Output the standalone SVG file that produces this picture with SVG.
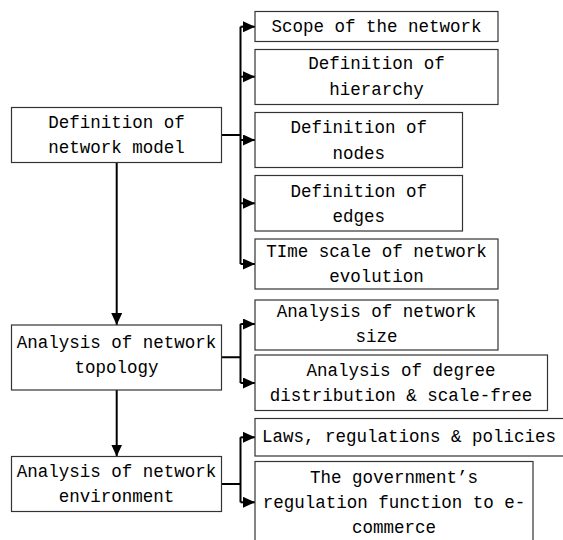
<svg xmlns="http://www.w3.org/2000/svg" width="563" height="540" viewBox="0 0 563 540">
<style>
.box{fill:#fff;stroke:#333;stroke-width:1.2}
.ln{fill:none;stroke:#000;stroke-width:2}
.t{font-family:"Liberation Mono","DejaVu Sans Mono",monospace;font-size:17.5px;fill:#000;text-anchor:middle}
.s{text-anchor:start}
</style>
<defs>
<marker id="ah" markerUnits="userSpaceOnUse" markerWidth="13" markerHeight="12" refX="12" refY="5.5" orient="auto">
<path d="M0,0 L12,5.5 L0,11 z" fill="#000"/>
</marker>
</defs>
<rect width="563" height="540" fill="#fff"/>
<g id="connectors">
<path class="ln" d="M221.5,135 H240.5 M240.5,26.7 V264 M221.5,357.3 H240.5 M240.5,324 V383 M221.5,484 H240.5 M240.5,437.3 V502.3"/>
<path class="ln" marker-end="url(#ah)" d="M240.5,26.7 H255"/>
<path class="ln" marker-end="url(#ah)" d="M240.5,76.7 H255"/>
<path class="ln" marker-end="url(#ah)" d="M240.5,140 H255"/>
<path class="ln" marker-end="url(#ah)" d="M240.5,203.3 H255"/>
<path class="ln" marker-end="url(#ah)" d="M240.5,264 H255"/>
<path class="ln" marker-end="url(#ah)" d="M240.5,324 H255"/>
<path class="ln" marker-end="url(#ah)" d="M240.5,383 H255"/>
<path class="ln" marker-end="url(#ah)" d="M240.5,437.3 H255"/>
<path class="ln" marker-end="url(#ah)" d="M240.5,502.3 H255"/>
<path class="ln" marker-end="url(#ah)" d="M116.7,162.5 V325" transform="translate(0,0)"/>
<path class="ln" marker-end="url(#ah)" d="M116.7,390 V456.5"/>
</g>
<g id="model"><rect class="box" x="11.5" y="107.5" width="210" height="55"/>
<text class="t" x="116.5" y="128.3">Definition of</text><text class="t" x="116.5" y="153.3">network model</text></g>
<g id="topology"><rect class="box" x="11.5" y="325" width="210" height="65"/>
<text class="t" x="116.5" y="348.3">Analysis of network</text><text class="t" x="116.5" y="372.7">topology</text></g>
<g id="environment"><rect class="box" x="11.5" y="456.5" width="210" height="55"/>
<text class="t" x="116.5" y="477.3">Analysis of network</text><text class="t" x="116.5" y="501.7">environment</text></g>
<g id="scope"><rect class="box" x="255" y="11.5" width="243" height="30"/>
<text class="t" x="376.5" y="32.3">Scope of the network</text></g>
<g id="hierarchy"><rect class="box" x="255" y="49.5" width="243" height="55"/>
<text class="t" x="376.5" y="69">Definition of</text><text class="t" x="376.5" y="95">hierarchy</text></g>
<g id="nodes"><rect class="box" x="255" y="112.5" width="207.5" height="55"/>
<text class="t" x="358.7" y="133.3">Definition of</text><text class="t" x="358.7" y="159">nodes</text></g>
<g id="edges"><rect class="box" x="255" y="175.5" width="207.5" height="55.5"/>
<text class="t" x="358.7" y="196.7">Definition of</text><text class="t" x="358.7" y="221.7">edges</text></g>
<g id="timescale"><rect class="box" x="255" y="239" width="243" height="50"/>
<text class="t" x="376.5" y="257.3">TIme scale of network</text><text class="t" x="376.5" y="282.3">evolution</text></g>
<g id="size"><rect class="box" x="255" y="300" width="243" height="50"/>
<text class="t" x="376.5" y="316.7">Analysis of network</text><text class="t" x="376.5" y="342">size</text></g>
<g id="degree"><rect class="box" x="255" y="355" width="292.5" height="55.5"/>
<text class="t" x="401" y="375.7">Analysis of degree</text><text class="t" x="401" y="400.7">distribution &amp; scale-free</text></g>
<g id="laws"><rect class="box" x="255" y="418.5" width="320" height="37.5"/>
<text class="t s" x="262" y="441.7">Laws, regulations &amp; policies</text></g>
<g id="government"><rect class="box" x="255" y="461.5" width="278" height="100"/>
<text class="t" x="394" y="483">The government’s</text><text class="t" x="394" y="508">regulation function to e-</text><text class="t" x="394" y="533">commerce</text></g>
</svg>
